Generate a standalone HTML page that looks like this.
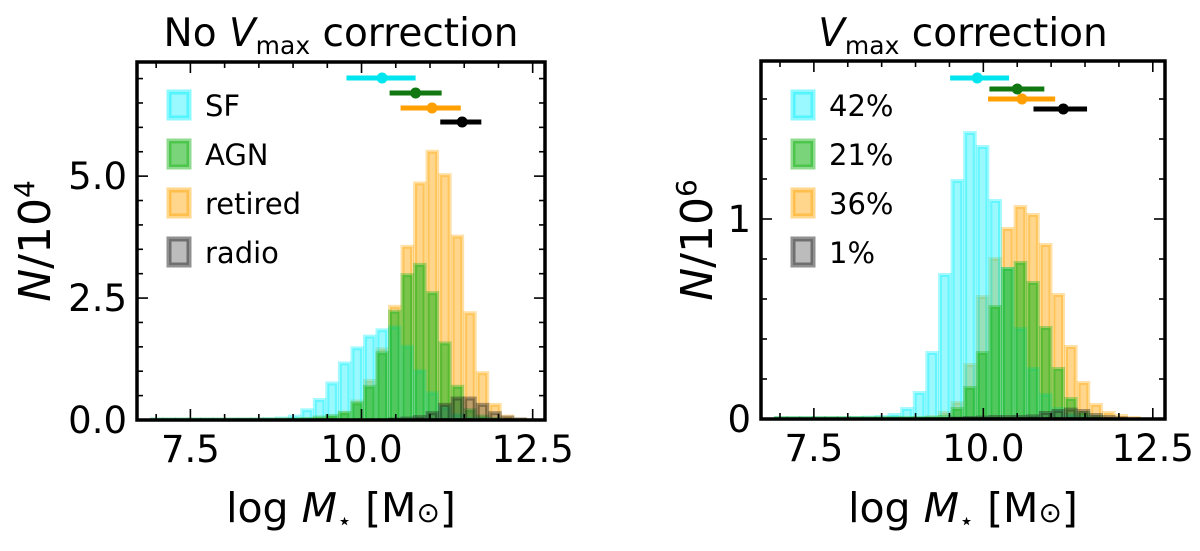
<!DOCTYPE html>
<html><head><meta charset="utf-8"><style>
body{margin:0;background:#fff;}
svg{display:block;font-family:"DejaVu Sans","Liberation Sans",sans-serif;}
</style></head><body>
<svg id="fig" width="1200" height="551" viewBox="0 0 1200 551"></svg>
<script>
// ---- data ----
const leftBinStart = 6.917, leftBinWidth = 0.183;
const leftSF = [0.005,0.005,0.005,0.005,0.005,0.005,0.005,0.005,0.01,0.015,0.03,0.07,0.2,0.41,0.75,1.16,1.47,1.71,1.84,1.9,1.5,1.0,0.55,0.25,0.1,0.03,0.01,0,0,0];
const leftAGN = [0.01,0.01,0.01,0.01,0.01,0.01,0.01,0.01,0.01,0.01,0.01,0.01,0.02,0.05,0.08,0.14,0.34,0.68,1.37,2.22,2.97,3.18,2.6,1.57,0.68,0.2,0.07,0.02,0,0];
const leftRetired = [0,0,0,0,0,0,0,0,0,0,0.005,0.01,0.01,0.02,0.05,0.15,0.38,0.8,1.45,2.32,3.55,4.85,5.5,5.02,3.76,2.19,0.96,0.31,0.07,0.01];
const leftRadio = [0,0,0,0,0,0,0,0,0,0,0,0,0,0,0,0,0,0,0,0.01,0.03,0.06,0.14,0.31,0.44,0.44,0.31,0.14,0.05,0.01];
const rightBinStart = 6.92, rightBinWidth = 0.186;
const rightSF = [0.003,0.003,0.003,0.003,0.003,0.003,0.005,0.007,0.01,0.02,0.05,0.13,0.33,0.72,1.19,1.43,1.36,1.09,0.75,0.45,0.25,0.12,0.05,0.02,0.01,0,0,0,0];
const rightAGN = [0.005,0.005,0.005,0.005,0.005,0.005,0.005,0.005,0.005,0.005,0.005,0.005,0.005,0.01,0.05,0.155,0.33,0.56,0.75,0.78,0.68,0.455,0.25,0.1,0.03,0.01,0,0,0];
const rightRetired = [0,0,0,0,0,0,0,0,0,0,0,0,0.01,0.03,0.08,0.27,0.61,0.8,0.95,1.06,1.02,0.87,0.62,0.36,0.18,0.07,0.03,0.015,0.005];
const rightRadio = [0,0,0,0,0,0,0,0,0,0,0,0,0,0,0.002,0.005,0.007,0.01,0.01,0.01,0.013,0.03,0.04,0.047,0.04,0.02,0.01,0.003,0];
// medians with ranges: [lo, median, hi]
const leftErr = [[9.78,10.30,10.79],[10.41,10.79,11.17],[10.57,11.03,11.45],[11.15,11.47,11.75]];
const rightErr = [[9.51,9.91,10.38],[10.09,10.50,10.90],[10.07,10.57,11.06],[10.74,11.18,11.53]];
const seriesNames = ["sf","agn","retired","radio"];
const leftLegend = ["SF","AGN","retired","radio"];
const rightLegend = ["42%","21%","36%","1%"];
const xTicks = [7.5,10.0,12.5];
const xTickLabels = ["7.5","10.0","12.5"];
const leftYTicks = [0,2.5,5.0];
const leftYTickLabels = ["0.0","2.5","5.0"];
const rightYTicks = [0,1];
const rightYTickLabels = ["0","1"];

// ---- drawing ----
const NS="http://www.w3.org/2000/svg";
const svg=document.getElementById('fig');
function mk(tag,attrs,parent,text){const e=document.createElementNS(NS,tag);for(const k in attrs)e.setAttribute(k,attrs[k]);if(text!==undefined)e.textContent=text;(parent||svg).appendChild(e);return e;}
const colors={sf:"#00f0ff",agn:"#22b822",retired:"#ffa500",radio:"#222222"};
const fillOp={sf:0.4,agn:0.6,retired:0.45,radio:0.3};
const strokeOp={sf:0.35,agn:0.4,retired:0.35,radio:0.4};
const errColors={sf:"#00e5ee",agn:"#117711",retired:"#ff9f00",radio:"#000000"};
const drawOrder=[2,0,1,3];

function panel(cfg){
  const g=mk('g',{});
  
  
  const X=v=>cfg.x0+(v-cfg.xmin)/(cfg.xmax-cfg.xmin)*(cfg.x1-cfg.x0);
  const Y=v=>cfg.y1-(v-cfg.ymin)/(cfg.ymax-cfg.ymin)*(cfg.y1-cfg.y0);
  const clip=mk('clipPath',{id:cfg.name+'-clip'},g);
  mk('rect',{x:cfg.x0,y:cfg.y0,width:cfg.x1-cfg.x0,height:cfg.y1-cfg.y0},clip);
  const plot=mk('g',{'clip-path':'url(#'+cfg.name+'-clip)'},g);
  drawOrder.forEach(si=>{
    const vals=cfg.series[si];
    const s=seriesNames[si];
    const sg=mk('g',{},plot);
    
    
    vals.forEach((v,i)=>{
      if(v<=0)return;
      const a=cfg.binStart+i*cfg.binWidth, b=a+cfg.binWidth;
      const r=mk('rect',{x:X(a)+1.5,y:Y(v),width:X(b)-X(a)-3,height:Math.max(0,Y(0)-Y(v)),fill:colors[s],'fill-opacity':fillOp[s],stroke:colors[s],'stroke-opacity':strokeOp[s],'stroke-width':4},sg);
      
      
    });
  });
  cfg.err.forEach((e,i)=>{
    const s=seriesNames[i];
    const yy=cfg.errY[i];
    const l=mk('line',{x1:X(e[0]),x2:X(e[2]),y1:yy,y2:yy,stroke:errColors[s],'stroke-width':5},g);
    
    
    const c=mk('circle',{cx:X(e[1]),cy:yy,r:5.5,fill:errColors[s]},g);
    
    
  });
  // ticks
  const tk=mk('g',{stroke:'#000','stroke-width':1.6},g);
  for(let v=7.0;v<=12.51;v+=0.5){
    const major=xTicks.some(t=>Math.abs(t-v)<1e-6);const L=major?11:6;
    mk('line',{x1:X(v),x2:X(v),y1:cfg.y1,y2:cfg.y1-L},tk);
    mk('line',{x1:X(v),x2:X(v),y1:cfg.y0,y2:cfg.y0+L},tk);
  }
  for(let v=0;v<=cfg.ymax+1e-6;v+=cfg.yMinor){
    const major=cfg.yTicks.some(t=>Math.abs(t-v)<1e-6);const L=major?11:6;
    mk('line',{x1:cfg.x0,x2:cfg.x0+L,y1:Y(v),y2:Y(v)},tk);
    mk('line',{x1:cfg.x1,x2:cfg.x1-L,y1:Y(v),y2:Y(v)},tk);
  }
  mk('rect',{x:cfg.x0,y:cfg.y0,width:cfg.x1-cfg.x0,height:cfg.y1-cfg.y0,fill:'none',stroke:'#000','stroke-width':3.5},g);
  xTicks.forEach((t,i)=>{const e=mk('text',{x:X(t),y:cfg.y1+42,'font-size':37,'text-anchor':'middle'},g,xTickLabels[i]);});
  cfg.yTicks.forEach((t,i)=>{const e=mk('text',{x:cfg.x0-10,y:Y(t)+13,'font-size':37,'text-anchor':'end'},g,cfg.yTickLabels[i]);});
  // legend
  cfg.legend.forEach((lab,i)=>{
    const s=seriesNames[i];const cy=105+i*49;
    const lg=mk('g',{},g);
    
    
    mk('rect',{x:cfg.x0+32,y:cy-13,width:20,height:26,fill:colors[s],'fill-opacity':fillOp[s],stroke:colors[s],'stroke-opacity':strokeOp[s]+0.1,'stroke-width':5},lg);
    mk('text',{x:cfg.x0+68,y:cy+11,'font-size':29},lg,lab);
  });
  const xl=mk('text',{x:(cfg.x0+cfg.x1)/2,y:522,'font-size':41,'text-anchor':'middle'},g);
  
  xl.innerHTML='log <tspan font-style="italic">M</tspan><tspan font-size="24" dy="7">⋆</tspan><tspan dy="-7"> [M</tspan><tspan font-size="28">⊙</tspan>]';
  const yl=mk('text',{transform:`translate(${cfg.yLabelX},${(cfg.y0+cfg.y1)/2}) rotate(-90)`,'font-size':44,'text-anchor':'middle'},g);
  
  yl.innerHTML='<tspan font-style="italic">N</tspan>/10<tspan font-size="28" dy="-16">'+cfg.exp+'</tspan>';
  const ti=mk('text',{x:(cfg.x0+cfg.x1)/2,y:46,'font-size':39,'text-anchor':'middle'},g);
  
  ti.innerHTML=cfg.titlePre+'<tspan font-style="italic">V</tspan><tspan font-size="25" dy="8">max</tspan><tspan dy="-8"> correction</tspan>';
}
panel({name:'left-panel',x0:137,x1:545,y0:62,y1:420,xmin:6.72,xmax:12.68,ymin:0,ymax:7.34,yMinor:0.5,
  yTicks:leftYTicks,yTickLabels:leftYTickLabels,binStart:leftBinStart,binWidth:leftBinWidth,
  series:[leftSF,leftAGN,leftRetired,leftRadio],err:leftErr,errY:[78,93,108,122],legend:leftLegend,
  yLabelX:50,exp:'4',titlePre:'No '});
panel({name:'right-panel',x0:761,x1:1165,y0:61,y1:419,xmin:6.72,xmax:12.68,ymin:0,ymax:1.79,yMinor:0.2,
  yTicks:rightYTicks,yTickLabels:rightYTickLabels,binStart:rightBinStart,binWidth:rightBinWidth,
  series:[rightSF,rightAGN,rightRetired,rightRadio],err:rightErr,errY:[78,89,99,109],legend:rightLegend,
  yLabelX:712,exp:'6',titlePre:''});
</script>
</body></html>
